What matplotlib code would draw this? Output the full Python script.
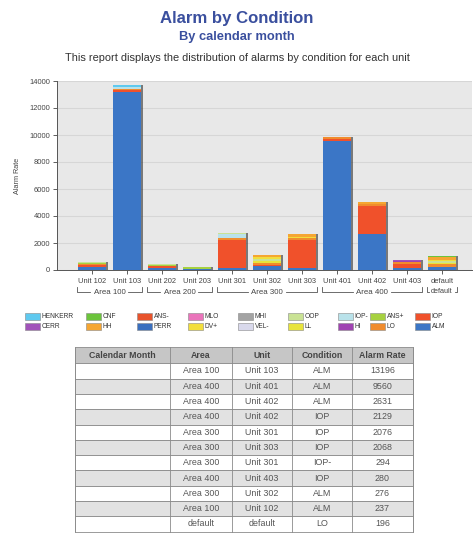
import matplotlib
matplotlib.use("Agg")
import matplotlib.pyplot as plt
from matplotlib.patches import Rectangle
from matplotlib.lines import Line2D
import numpy as np

plt.rcParams['font.family'] = ['Liberation Sans', 'DejaVu Sans']

W, H = 474, 534

units = ["Unit 102", "Unit 103", "Unit 202", "Unit 203", "Unit 301", "Unit 302",
         "Unit 303", "Unit 401", "Unit 402", "Unit 403", "default"]
areas = ["Area 100", "Area 200", "Area 300", "Area 400", "default"]
area_spans = [(0, 1), (2, 3), (4, 6), (7, 9), (10, 10)]

# alarm rate per condition for each unit (same order as `units`)
ALM     = [237, 13196, 170, 40, 120, 276, 130, 9560, 2631, 170, 190]
IOP     = [140, 160, 120, 0, 2076, 90, 2068, 150, 2129, 280, 40]
LO      = [90, 70, 0, 0, 140, 180, 190, 120, 150, 110, 196]
ANS_P   = [70, 0, 90, 170, 0, 0, 0, 0, 0, 0, 0]
HI      = [0, 0, 0, 0, 0, 0, 0, 0, 0, 80, 0]
IOP_M   = [0, 100, 0, 0, 294, 0, 0, 0, 0, 0, 0]
LL      = [0, 0, 0, 0, 0, 150, 0, 0, 0, 0, 120]
OOP     = [50, 0, 60, 0, 110, 150, 0, 0, 0, 0, 100]
VEL_M   = [0, 0, 0, 0, 0, 0, 0, 0, 0, 0, 0]
MHI     = [0, 0, 0, 0, 0, 0, 0, 0, 0, 0, 0]
DV_P    = [0, 0, 0, 0, 0, 80, 80, 0, 0, 0, 100]
MLO     = [0, 0, 0, 0, 0, 0, 0, 0, 0, 0, 0]
PERR    = [0, 0, 0, 0, 0, 0, 0, 0, 0, 0, 0]
ANS_M   = [0, 60, 0, 0, 0, 0, 0, 0, 0, 60, 0]
HH      = [0, 0, 0, 0, 0, 190, 190, 0, 150, 0, 190]
CNF     = [0, 0, 0, 0, 0, 0, 0, 0, 0, 0, 70]
CERR    = [0, 0, 0, 0, 0, 0, 0, 0, 0, 50, 0]
HENKERR = [0, 150, 0, 0, 0, 0, 0, 0, 0, 0, 0]

# stacking order, bottom first
series = [
    ("ALM", ALM, "#3b76c6"),
    ("IOP", IOP, "#f0512b"),
    ("LO", LO, "#f08c2e"),
    ("ANS+", ANS_P, "#a6d140"),
    ("HI", HI, "#a043b2"),
    ("IOP-", IOP_M, "#b9e2ea"),
    ("LL", LL, "#e8e43c"),
    ("OOP", OOP, "#c9e294"),
    ("VEL-", VEL_M, "#d9d9ec"),
    ("MHI", MHI, "#a3a3a3"),
    ("DV+", DV_P, "#f2de3c"),
    ("MLO", MLO, "#ea74bb"),
    ("PERR", PERR, "#3a6fbf"),
    ("ANS-", ANS_M, "#e8532c"),
    ("HH", HH, "#f5a632"),
    ("CNF", CNF, "#6cc43c"),
    ("CERR", CERR, "#a153ba"),
    ("HENKERR", HENKERR, "#5fc9ef"),
]

# legend layout: two rows, read column by column
legend_rows = [
    ["HENKERR", "CNF", "ANS-", "MLO", "MHI", "OOP", "IOP-", "ANS+", "IOP"],
    ["CERR", "HH", "PERR", "DV+", "VEL-", "LL", "HI", "LO", "ALM"],
]

# top alarm rates table
tbl_header = ["Calendar Month", "Area", "Unit", "Condition", "Alarm Rate"]
tbl_area = ["Area 100", "Area 400", "Area 400", "Area 400", "Area 300", "Area 300",
            "Area 300", "Area 400", "Area 300", "Area 100", "default"]
tbl_unit = ["Unit 103", "Unit 401", "Unit 402", "Unit 402", "Unit 301", "Unit 303",
            "Unit 301", "Unit 403", "Unit 302", "Unit 102", "default"]
tbl_cond = ["ALM", "ALM", "ALM", "IOP", "IOP", "IOP", "IOP-", "IOP", "ALM", "ALM", "LO"]
tbl_rate = [13196, 9560, 2631, 2129, 2076, 2068, 294, 280, 276, 237, 196]


def fx(px):
    return px / W


def fy(py):
    return 1 - py / H


fig = plt.figure(figsize=(W / 100, H / 100), dpi=100)
fig.patch.set_facecolor("white")

# titles
title_col = "#3a4f9e"
fig.text(0.5, fy(18), "Alarm by Condition", ha="center", va="center",
         fontsize=12.1, fontweight="bold", color=title_col)
fig.text(0.5, fy(37), "By calendar month", ha="center", va="center",
         fontsize=9.3, fontweight="bold", color=title_col)
fig.text(0.5, fy(58), "This report displays the distribution of alarms by condition for each unit",
         ha="center", va="center", fontsize=7.9, color="#333333")

# chart
ax_l, ax_r, ax_t, ax_b = 57, 472, 81, 270
ax = fig.add_axes([fx(ax_l), fy(ax_b), fx(ax_r) - fx(ax_l), fy(ax_t) - fy(ax_b)])
ax.set_facecolor("#e8e8e8")
x = np.arange(len(units))
bw = 0.82

totals = np.zeros(len(units))
for _, vals, _c in series:
    totals += np.array(vals, dtype=float)
ax.bar(x + 0.05, totals, width=bw, color="#4a4a4a", alpha=0.7, zorder=2, linewidth=0)

bottom = np.zeros(len(units))
for name, vals, col in series:
    v = np.array(vals, dtype=float)
    ax.bar(x, v, width=bw, bottom=bottom, color=col, zorder=3, linewidth=0)
    bottom += v

ax.set_xlim(-1.0, 10.86)
ax.set_ylim(0, 14000)
ax.set_yticks(np.arange(0, 14001, 2000))
ax.set_yticklabels([str(v) for v in range(0, 14001, 2000)])
ax.yaxis.grid(True, color="#d6d6d6", linewidth=0.8, zorder=0)
ax.set_axisbelow(True)
ax.set_xticks(x)
ax.set_xticklabels(units)
ax.tick_params(axis="both", labelsize=5.4, colors="#444444", length=3, width=0.6, pad=2)
ax.tick_params(axis="x", pad=3)
for s in ["top", "right"]:
    ax.spines[s].set_visible(False)
for s in ["left", "bottom"]:
    ax.spines[s].set_color("#555555")
    ax.spines[s].set_linewidth(0.7)
ax.set_ylabel("Alarm Rate", fontsize=5.2, color="#444444", labelpad=6)

# area group brackets under the unit labels
yb = 292
unit_px = (ax_r - ax_l) / 11.86
for (i0, i1), name in zip(area_spans, areas):
    xl_px = ax_l + (i0 - 0.43 + 1.0) * unit_px
    xr_px = ax_l + (i1 + 0.43 + 1.0) * unit_px
    cx = (xl_px + xr_px) / 2
    if i0 == i1:
        fig.text(cx / W, fy(yb - 0.5), name, ha="center", va="center", fontsize=5.2, color="#444444")
        segs = [[(xl_px, yb - 5), (xl_px, yb), (xl_px + 2, yb)],
                [(xr_px - 2, yb), (xr_px, yb), (xr_px, yb - 5)]]
    else:
        fig.text(cx / W, fy(yb), name, ha="center", va="center", fontsize=5.7, color="#444444")
        half = 19
        segs = [[(xl_px, yb - 5), (xl_px, yb), (cx - half, yb)],
                [(cx + half, yb), (xr_px, yb), (xr_px, yb - 5)]]
    for seg in segs:
        xs = [p[0] / W for p in seg]
        ys = [fy(p[1]) for p in seg]
        fig.add_artist(Line2D(xs, ys, color="#555555", linewidth=0.6))

# legend
color_of = {n: c for n, _v, c in series}
leg_x = [25, 86, 137, 188, 238, 288, 338, 370, 415]
leg_y = [316, 326]
pw, ph = 15, 7
for r, row in enumerate(legend_rows):
    for c, name in enumerate(row):
        px, py = leg_x[c], leg_y[r]
        fig.add_artist(Rectangle((fx(px), fy(py + ph / 2)), pw / W, ph / H,
                                 facecolor=color_of[name], edgecolor="#888888", linewidth=0.4))
        fig.text(fx(px + pw + 1.5), fy(py), name, ha="left", va="center",
                 fontsize=4.8, color="#333333")

# table
col_edges = [75, 170, 232, 292, 352, 413]
head_top, head_bot = 347, 363.3
row_h = 15.3
rows = list(zip(["" for _ in tbl_area], tbl_area, tbl_unit, tbl_cond, [str(v) for v in tbl_rate]))
border = "#8a8a8a"

fig.add_artist(Rectangle((fx(col_edges[0]), fy(head_bot)), (col_edges[-1] - col_edges[0]) / W,
                         (head_bot - head_top) / H, facecolor="#c6c6c6", edgecolor=border, linewidth=0.6))
for j in range(5):
    cx = (col_edges[j] + col_edges[j + 1]) / 2
    fig.text(fx(cx), fy((head_top + head_bot) / 2), tbl_header[j], ha="center", va="center",
             fontsize=6.3, fontweight="bold", color="#444444")
for i, row in enumerate(rows):
    top = head_bot + i * row_h
    bot = top + row_h
    face = "white" if i % 2 == 0 else "#e2e2e2"
    fig.add_artist(Rectangle((fx(col_edges[0]), fy(bot)), (col_edges[-1] - col_edges[0]) / W,
                             row_h / H, facecolor=face, edgecolor=border, linewidth=0.6))
    for j in range(5):
        cx = (col_edges[j] + col_edges[j + 1]) / 2
        fig.text(fx(cx), fy((top + bot) / 2), row[j], ha="center", va="center",
                 fontsize=6.4, color="#555555")
table_bot = head_bot + len(rows) * row_h
for xe in col_edges:
    fig.add_artist(Line2D([fx(xe), fx(xe)], [fy(head_top), fy(table_bot)], color=border, linewidth=0.6))

fig.savefig("out.png", dpi=100, facecolor="white")
